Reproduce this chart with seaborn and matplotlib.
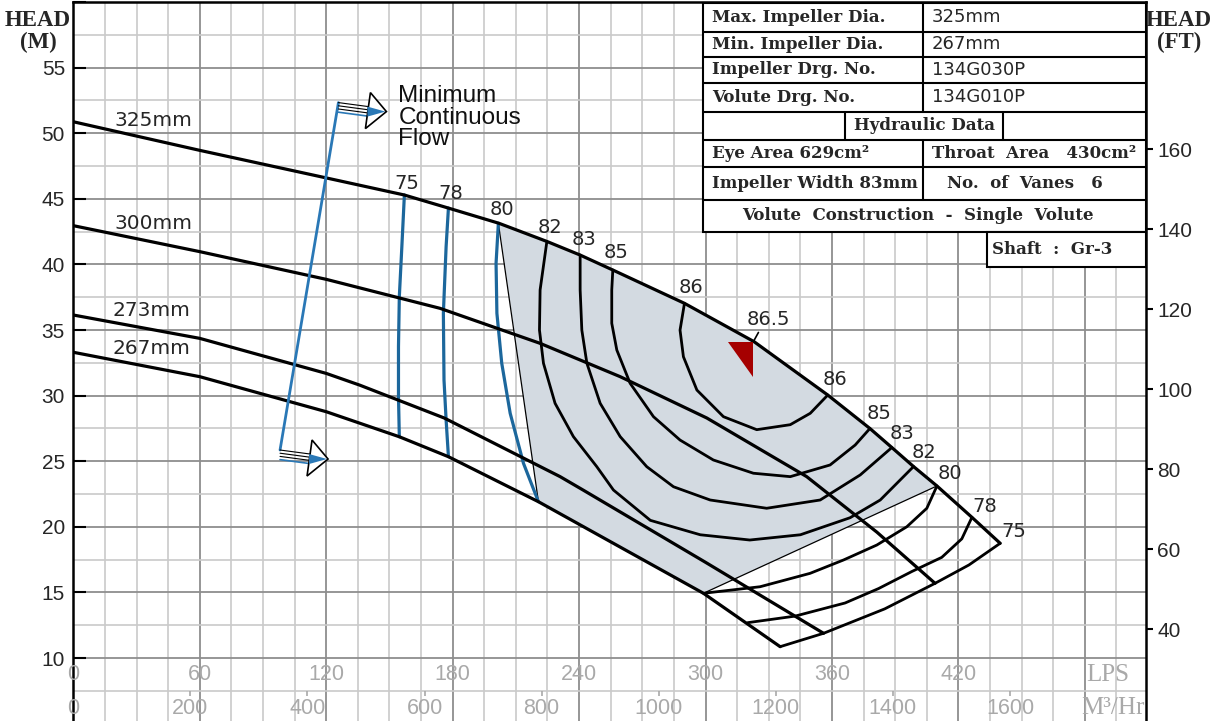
import matplotlib
matplotlib.use("Agg")
import matplotlib.pyplot as plt
import matplotlib.transforms as mtransforms
from matplotlib.patches import Polygon, Rectangle
import numpy as np
import pandas as pd
import seaborn as sns

#%%
# Head curves (flow in LPS, head in m)
flow_325 = [0, 60, 120, 157, 178, 202, 225, 240.5, 256, 290, 323, 358, 378, 388.4, 398.7, 409.8, 426.4, 439.8]
head_325 = [50.88, 48.7, 46.6, 45.3, 44.3, 43.14, 41.74, 40.72, 39.58, 37.04, 34.12, 30.05, 27.5, 26.05, 24.6, 23.12, 20.73, 18.75]
flow_300 = [0, 60, 120, 174, 221.5, 259.5, 300.6, 348, 381.3, 408.9]
head_300 = [42.96, 40.98, 38.87, 36.66, 33.99, 31.45, 28.3, 23.83, 19.6, 15.7]
flow_273 = [0, 60, 120, 136, 176, 231, 242, 300, 356]
head_273 = [36.15, 34.37, 31.7, 30.8, 28.3, 23.83, 22.8, 17.3, 11.89]
flow_267 = [0, 60, 120, 136, 154.7, 178, 220.7, 299, 335.4]
head_267 = [33.31, 31.45, 28.78, 27.9, 26.87, 25.35, 21.92, 14.94, 10.87]

# Efficiency contours (%)
eff75_l_q = [157.1, 155.9, 154.7, 154.3, 154.3, 154.7]
eff75_l_h = [45.3, 41.36, 37.55, 33.74, 29.92, 26.87]
eff78_l_q = [178, 176.9, 175.6, 175.9, 176.9, 178]
eff78_l_h = [44.3, 41.36, 36.28, 31.2, 28.15, 25.35]
eff80_l_q = [201.7, 200.6, 201, 203.3, 207.3, 213.6, 220.7]
eff80_l_h = [43.14, 40.09, 36.28, 32.47, 28.66, 24.85, 21.92]

eff82_q = [224.7, 221.5, 221.2, 223.1, 228.6, 237.3, 248.4, 256.3, 273.8, 297.5, 321, 345, 368.6, 382.9, 398.7]
eff82_h = [41.74, 38.06, 35.0, 32.47, 29.42, 26.88, 24.59, 22.81, 20.5, 19.4, 19.0, 19.4, 20.7, 22.05, 24.6]
eff83_q = [240.5, 240.5, 241.3, 243.7, 250, 259.5, 272.1, 284.8, 302.2, 329, 354.4, 373.4, 388.4]
eff83_h = [40.72, 38.06, 35.0, 32.47, 29.42, 26.88, 24.59, 23.06, 22.05, 21.42, 22.05, 23.96, 26.05]
eff85_q = [256, 255.5, 255.5, 257.9, 264.2, 275.3, 287.9, 303.7, 322.7, 340.2, 359.1, 371, 378]
eff85_h = [39.58, 38.06, 35.52, 33.48, 30.95, 28.4, 26.62, 25.1, 24.09, 23.83, 24.72, 26.24, 27.5]
eff86_q = [290, 287.9, 289.5, 295.9, 308.5, 324.3, 340.2, 349.7, 358]
eff86_h = [37.04, 35.0, 32.97, 30.43, 28.4, 27.41, 27.79, 28.66, 30.05]
eff80_r_q = [409.8, 405, 395.5, 381.3, 365.5, 349.6, 325.9, 299]
eff80_r_h = [23.12, 21.42, 20.01, 18.62, 17.48, 16.46, 15.44, 14.94]
eff78_r_q = [426.4, 421.6, 412.1, 397.9, 382.1, 366.2, 342.5, 320]
eff78_r_h = [20.73, 19.09, 17.68, 16.6, 15.3, 14.2, 13.2, 12.7]
eff75_r_q = [439.8, 425, 408.9, 385, 356, 335.4]
eff75_r_h = [18.75, 17.1, 15.7, 13.75, 11.89, 10.87]

# best efficiency marker (86.5 %)
bep_q = [310.8, 322.7, 322.7]
bep_h = [34.12, 34.12, 31.45]

# minimum continuous flow line
mcf_q = [98.1, 125.8]
mcf_h = [25.86, 52.34]

lps_ticks = [0, 60, 120, 180, 240, 300, 360, 420]
m3h_ticks = [0, 200, 400, 600, 800, 1000, 1200, 1400, 1600]
m_ticks = [10, 15, 20, 25, 30, 35, 40, 45, 50, 55]
ft_ticks = [40, 60, 80, 100, 120, 140, 160]

table_rows = [("Max. Impeller Dia.", "325mm"),
              ("Min. Impeller Dia.", "267mm"),
              ("Impeller Drg. No.", "134G030P"),
              ("Volute Drg. No.", "134G010P")]

#%%
def long_table(curves):
    return pd.concat([pd.DataFrame({"flow": q, "head": h, "curve": name}) for name, q, h in curves])

heads = long_table([("325", flow_325, head_325), ("300", flow_300, head_300),
                    ("273", flow_273, head_273), ("267", flow_267, head_267)])
effs = long_table([("82", eff82_q, eff82_h), ("83", eff83_q, eff83_h),
                   ("85", eff85_q, eff85_h), ("86", eff86_q, eff86_h),
                   ("80r", eff80_r_q, eff80_r_h), ("78r", eff78_r_q, eff78_r_h),
                   ("75r", eff75_r_q, eff75_r_h)])
blues = long_table([("75", eff75_l_q, eff75_l_h), ("78", eff78_l_q, eff78_l_h),
                    ("80", eff80_l_q, eff80_l_h)])

sns.set_theme(style="white")
plt.rcParams['font.family'] = ['DejaVu Sans']

W, H = 1219, 721
fig = plt.figure(figsize=(W / 100, H / 100), dpi=100)
ax = fig.add_axes([73.3 / W, -0.00374, (1146 - 73.3) / W, 1.00083])
ax.set_xlim(0, 509)
ax.set_ylim(5, 60)
ax.autoscale(False)

# grid
ax.set_xticks(np.arange(0, 510, 60))
ax.set_xticks(np.arange(0, 510, 15), minor=True)
ax.set_yticks(np.arange(5, 61, 5))
ax.set_yticks(np.arange(5, 61, 2.5), minor=True)
ax.set_axisbelow(True)
ax.grid(which='major', color='#8e8e8e', lw=1.3)
ax.grid(which='minor', color='#cacaca', lw=1.2)
ax.tick_params(axis='x', which='both', length=0, labelbottom=False)
ax.tick_params(axis='y', which='minor', length=0)
ax.tick_params(axis='y', which='major', direction='in', length=9, width=1.5,
               color='black', pad=6, labelsize=15)
ax.set_yticklabels(['' if v not in m_ticks else str(v) for v in np.arange(5, 61, 5)],
                   family='Liberation Sans')
for s in ['left', 'top', 'right']:
    ax.spines[s].set_color('black')
    ax.spines[s].set_linewidth(1.8)
ax.spines['bottom'].set_visible(False)

# shaded area of best efficiency: 325mm curve from the left 80 line to the right 80 line,
# then back along the 267mm curve
top = [(q, h) for q, h in zip(flow_325, head_325) if eff80_l_q[0] <= q <= eff80_r_q[0]]
bottom = [(q, h) for q, h in zip(flow_267, head_267) if eff80_l_q[-1] <= q <= eff80_r_q[-1]][::-1]
shade = np.array(top + bottom)
ax.fill(shade[:, 0], shade[:, 1], color='#d3dae1', lw=0, zorder=1.5)
ax.plot([eff80_l_q[0], eff80_l_q[-1]], [eff80_l_h[0], eff80_l_h[-1]], color='black', lw=0.9, zorder=2)
ax.plot([eff80_r_q[0], eff80_r_q[-1]], [eff80_r_h[0], eff80_r_h[-1]], color='black', lw=0.9, zorder=2)

sns.lineplot(data=effs, x='flow', y='head', units='curve', estimator=None, sort=False,
             color='black', lw=2.0, ax=ax, legend=False, zorder=3)
sns.lineplot(data=blues, x='flow', y='head', units='curve', estimator=None, sort=False,
             color='#1c679c', lw=2.3, ax=ax, legend=False, zorder=3)
sns.lineplot(data=heads, x='flow', y='head', units='curve', estimator=None, sort=False,
             color='black', lw=2.3, ax=ax, legend=False, zorder=4)
ax.set_xlabel('')
ax.set_ylabel('')

ax.fill(bep_q, bep_h, color='#a50000', lw=0, zorder=5)
ax.plot([bep_q[1], bep_q[1] + 2.4], [bep_h[0], bep_h[0] + 0.7], color='black', lw=1.2, zorder=5)

# minimum continuous flow
blue = '#2a78b6'
ax.plot(mcf_q, mcf_h, color=blue, lw=2.0, zorder=5)
for x0, y0 in zip(mcf_q[::-1], mcf_h[::-1]):
    tr = mtransforms.Affine2D().scale(1, -1) + mtransforms.ScaledTranslation(x0, y0, ax.transData)
    for k in range(3):
        ax.plot([0, 30], [k * 3.2, 4 + k * 3.2], color='black', lw=0.8, transform=tr, zorder=5)
    ax.plot([0, 30], [9.6, 13.6], color=blue, lw=1.2, transform=tr, zorder=5)
    ax.add_patch(Polygon([(32, -10), (48, 9), (27, 26)], closed=True, fc='white', ec='black',
                         lw=1.2, transform=tr, zorder=6))
    ax.add_patch(Polygon([(29, 4), (47, 9), (29, 14)], closed=True, fc=blue, ec='none',
                         transform=tr, zorder=7))
ax.text(154.2, 51.2, "Minimum\nContinuous\nFlow", ha='left', va='center', fontsize=17.5,
        family='Liberation Sans', linespacing=0.95, color='#111111', zorder=6)

# labels
for txt, x, y in [("325mm", 38, 51.0), ("300mm", 38, 43.14), ("273mm", 37.2, 36.53), ("267mm", 37.2, 33.6)]:
    ax.text(x, y, txt, ha='center', va='center', fontsize=14.5, zorder=6)
for txt, x, y in [("75", 158.2, 46.2), ("78", 179.1, 45.4), ("80", 203.3, 44.2), ("82", 226.2, 42.83),
                  ("83", 242.4, 41.87), ("85", 257.4, 40.9), ("86", 293, 38.23), ("86.5", 329.9, 35.77),
                  ("86", 361.5, 31.2), ("85", 382.1, 28.66), ("83", 393.2, 27.13), ("82", 403.7, 25.66),
                  ("80", 416, 24.08), ("78", 432.7, 21.54), ("75", 446.1, 19.63)]:
    ax.text(x, y, txt, ha='center', va='center', fontsize=14, zorder=6)

# flow scales drawn inside the chart
grey = '#a9a9a9'
for v in lps_ticks:
    ax.text(v, 8.72, str(v), ha='center', va='center', color=grey, fontsize=15.5, family='Liberation Sans')
for v in m3h_ticks:
    ax.text(v / 3.6, 6.17, str(v), ha='center', va='center', color=grey, fontsize=15.5, family='Liberation Sans')
ax.vlines([v / 3.6 for v in m3h_ticks[1:]], 7.1, 7.5, color=grey, lw=1.2)
ax.text(480.5, 8.72, "LPS", ha='left', va='center', color=grey, fontsize=18, family='Liberation Serif')
ax.text(508.5, 6.17, "M³/Hr", ha='right', va='center', color=grey, fontsize=18, family='Liberation Serif')

# head in feet
ax2 = ax.twinx()
ax2.set_ylim(5 * 3.28084, 60 * 3.28084)
ax2.set_yticks(ft_ticks)
ax2.set_yticklabels([str(v) for v in ft_ticks], family='Liberation Sans')
ax2.tick_params(axis='y', direction='out', length=5, width=1.5, color='black', pad=3, labelsize=15)
ax2.grid(False)
for s in ax2.spines.values():
    s.set_visible(False)

fig.text(38 / W, 1 - 20 / H, "HEAD", ha='center', va='center', fontsize=16.5, weight='bold', family='Liberation Serif')
fig.text(38 / W, 1 - 42 / H, "(M)", ha='center', va='center', fontsize=16.5, weight='bold', family='Liberation Serif')
fig.text(1179 / W, 1 - 20 / H, "HEAD", ha='center', va='center', fontsize=16.5, weight='bold', family='Liberation Serif')
fig.text(1179 / W, 1 - 42 / H, "(FT)", ha='center', va='center', fontsize=16.5, weight='bold', family='Liberation Serif')

#%%
# data table in the top right corner (pixel coordinates)
tab = fig.add_axes([703.3 / W, 1 - 266.7 / H, (1146 - 703.3) / W, (266.7 - 3.3) / H])
tab.set_xlim(703.3, 1146)
tab.set_ylim(266.7, 3.3)
tab.axis('off')
tab.set_zorder(10)
tlw = 1.5
tab.add_patch(Rectangle((703.3, 3.3), 1146 - 703.3, 231.7 - 3.3, fc='white', ec='black', lw=tlw, clip_on=False))
tab.add_patch(Rectangle((986.7, 231.7), 1146 - 986.7, 35, fc='white', ec='black', lw=tlw, clip_on=False))
for y in [31.7, 56.7, 83.3, 111.7, 140, 166.7, 200]:
    tab.plot([703.3, 1146], [y, y], color='black', lw=tlw, clip_on=False)
tab.plot([923.3, 923.3], [3.3, 111.7], color='black', lw=tlw)
tab.plot([923.3, 923.3], [140, 200], color='black', lw=tlw)
tab.plot([845, 845], [111.7, 140], color='black', lw=tlw)
tab.plot([1003.3, 1003.3], [111.7, 140], color='black', lw=tlw)

serif = dict(family='DejaVu Serif', weight='bold', fontsize=12, va='center')
for (lab, val), yc in zip(table_rows, [17.5, 44.2, 70, 97.5]):
    tab.text(711.7, yc, lab, ha='left', **serif)
    tab.text(931.7, yc, val, ha='left', va='center', fontsize=13)
tab.text(924, 125.8, "Hydraulic Data", ha='center', **serif)
tab.text(711.7, 153.3, "Eye Area 629cm²", ha='left', **serif)
tab.text(931.7, 153.3, "Throat  Area   430cm²", ha='left', **serif)
tab.text(711.7, 183.3, "Impeller Width 83mm", ha='left', **serif)
tab.text(1025, 183.3, "No.  of  Vanes   6", ha='center', **serif)
tab.text(918, 215.8, "Volute  Construction  -  Single  Volute", ha='center', **serif)
tab.text(992, 249, "Shaft  :  Gr-3", ha='left', **serif)

fig.savefig("out.png", dpi=100)
